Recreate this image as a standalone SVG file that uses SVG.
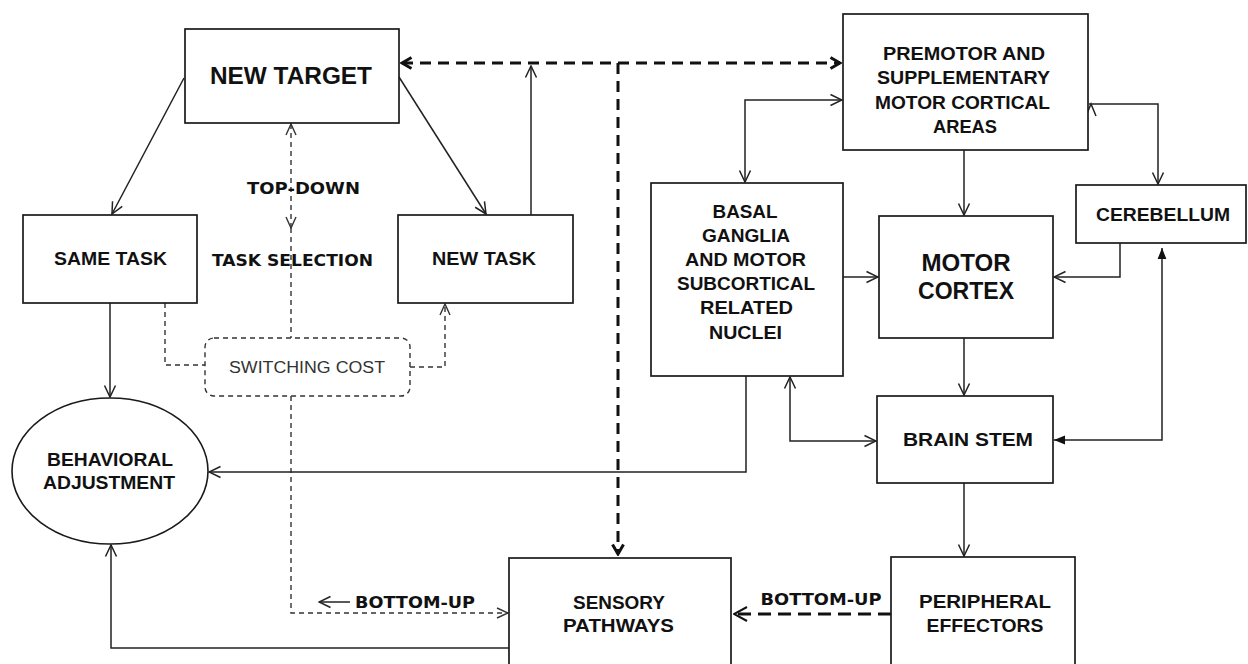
<svg xmlns="http://www.w3.org/2000/svg" width="1248" height="664" viewBox="0 0 1248 664">
<style>
.box{fill:#fff;stroke:#1a1a1a;stroke-width:1.7}
.t{font-family:"Liberation Sans",Arial,sans-serif;font-weight:bold;fill:#111;text-anchor:middle}
.g{font-family:"DejaVu Sans","Liberation Sans",sans-serif;font-weight:bold;fill:#111;text-anchor:middle}
.c{fill:none;stroke:#222;stroke-width:1.5}
.d{fill:none;stroke:#333;stroke-width:1.4;stroke-dasharray:5 4}
.td{fill:none;stroke:#111;stroke-width:3;stroke-dasharray:11 7}
</style>
<defs>
<marker id="a" viewBox="0 0 14 14" refX="13" refY="7" markerWidth="14" markerHeight="14" markerUnits="userSpaceOnUse" orient="auto-start-reverse"><path d="M1.5,1.5 L13,7 L1.5,12.5" fill="none" stroke="#222" stroke-width="1.5"/></marker>
<marker id="ad" viewBox="0 0 14 14" refX="13" refY="7" markerWidth="14" markerHeight="14" markerUnits="userSpaceOnUse" orient="auto-start-reverse"><path d="M2,2 L13,7 L2,12" fill="none" stroke="#333" stroke-width="1.4"/></marker>
<marker id="at" viewBox="0 0 14 14" refX="12" refY="7" markerWidth="14" markerHeight="14" markerUnits="userSpaceOnUse" orient="auto-start-reverse"><path d="M2.5,1.5 L12,7 L2.5,12.5" fill="none" stroke="#111" stroke-width="3"/></marker>
<marker id="am" viewBox="0 0 16 16" refX="15" refY="8" markerWidth="16" markerHeight="16" markerUnits="userSpaceOnUse" orient="auto-start-reverse"><path d="M2,1 L15,8 L2,15" fill="none" stroke="#111" stroke-width="2"/></marker>
<marker id="af" viewBox="0 0 10 10" refX="10" refY="5" markerWidth="11" markerHeight="11" markerUnits="userSpaceOnUse" orient="auto-start-reverse"><path d="M0,1 L10,5 L0,9 Z" fill="#111"/></marker>
</defs>
<rect width="1248" height="664" fill="#fff"/>

<g id="connectors">
<path class="td" d="M402,63 H840" marker-start="url(#at)" marker-end="url(#at)"/>
<path class="td" d="M618,63 V554" marker-end="url(#at)"/>
<path class="c" d="M184,78 L112,214" marker-end="url(#a)"/>
<path class="c" d="M399,77 L486,214" marker-end="url(#a)"/>
<path class="c" d="M531,215 V66" marker-end="url(#a)"/>
<path class="d" d="M291,124 V228" marker-start="url(#ad)" marker-end="url(#ad)"/>
<path class="d" d="M291,228 V338"/>
<path class="d" d="M165,303 V365 H205"/>
<path class="d" d="M410,367 H445 V304" marker-end="url(#ad)"/>
<path class="d" d="M291,396 V613 H508" marker-end="url(#ad)"/>
<path class="c" d="M350,602 H319" marker-end="url(#a)"/>
<path class="c" d="M110,303 V397" marker-end="url(#a)"/>
<path class="c" d="M746,376 V472 H209" marker-end="url(#a)"/>
<path class="c" d="M509,648 H111 V545" marker-end="url(#a)"/>
<path class="c" d="M842,100 H745 V182" marker-start="url(#a)" marker-end="url(#a)"/>
<path class="c" d="M964,150 V215" marker-end="url(#a)"/>
<path class="c" d="M1089,104 H1158 V184" marker-end="url(#a)"/>
<path class="c" d="M1086,116 L1091,104 L1096,116"/>
<path class="c" d="M1120,243 V277 H1054" marker-end="url(#a)"/>
<path class="c" d="M843,277 H878" marker-end="url(#a)"/>
<path class="c" d="M964,338 V395" marker-end="url(#a)"/>
<path class="c" d="M790,377 V441 H876" marker-start="url(#a)" marker-end="url(#a)"/>
<path class="c" d="M1054,440 H1162 V248" marker-start="url(#af)" marker-end="url(#af)"/>
<path class="c" d="M964,483 V556" marker-end="url(#a)"/>
<path fill="none" stroke="#111" stroke-width="3" stroke-dasharray="13 7" d="M891,614 H734" marker-end="url(#am)"/>
</g>

<g id="new-target"><rect class="box" x="185" y="29" width="214" height="94"/><text class="t" x="291" y="84" font-size="23" textLength="162" lengthAdjust="spacingAndGlyphs">NEW TARGET</text></g>
<g id="same-task"><rect class="box" x="23" y="215" width="174" height="88"/><text class="t" x="110.5" y="265" font-size="18" textLength="113" lengthAdjust="spacingAndGlyphs">SAME TASK</text></g>
<g id="new-task"><rect class="box" x="398" y="215" width="175" height="88"/><text class="t" x="484" y="265" font-size="18" textLength="104" lengthAdjust="spacingAndGlyphs">NEW TASK</text></g>
<g id="labels">
<text class="g" x="303.5" y="193.5" font-size="15.5" textLength="113" lengthAdjust="spacingAndGlyphs">TOP-DOWN</text>
<text class="g" x="292.5" y="266" font-size="15.5" textLength="161" lengthAdjust="spacingAndGlyphs">TASK SELECTION</text>
<text class="g" x="415" y="607.5" font-size="15" textLength="120" lengthAdjust="spacingAndGlyphs">BOTTOM-UP</text>
<text class="g" x="821" y="605" font-size="15" textLength="121" lengthAdjust="spacingAndGlyphs">BOTTOM-UP</text>
</g>
<g id="switching-cost"><rect x="205" y="338" width="205" height="58" rx="9" fill="#fff" stroke="#333" stroke-width="1.4" stroke-dasharray="5 4"/><text x="307" y="373" font-family="Liberation Sans,Arial,sans-serif" font-size="16" fill="#333" text-anchor="middle" textLength="156" lengthAdjust="spacingAndGlyphs">SWITCHING COST</text></g>
<g id="behavioral-adjustment"><ellipse cx="110" cy="471" rx="98" ry="73" fill="#fff" stroke="#1a1a1a" stroke-width="1.6"/><text class="t" x="110" y="466" font-size="18" textLength="126" lengthAdjust="spacingAndGlyphs">BEHAVIORAL</text><text class="t" x="109" y="489" font-size="18" textLength="132" lengthAdjust="spacingAndGlyphs">ADJUSTMENT</text></g>
<g id="premotor"><rect class="box" x="843" y="14" width="245" height="136"/>
<text class="t" x="964" y="60" font-size="18" textLength="162" lengthAdjust="spacingAndGlyphs">PREMOTOR AND</text>
<text class="t" x="963.5" y="84" font-size="18" textLength="173" lengthAdjust="spacingAndGlyphs">SUPPLEMENTARY</text>
<text class="t" x="962.5" y="108.5" font-size="18" textLength="175" lengthAdjust="spacingAndGlyphs">MOTOR CORTICAL</text>
<text class="t" x="965" y="132.5" font-size="18" textLength="64" lengthAdjust="spacingAndGlyphs">AREAS</text></g>
<g id="basal-ganglia"><rect class="box" x="651" y="183" width="192" height="193"/>
<text class="t" x="745" y="217.5" font-size="18" textLength="65" lengthAdjust="spacingAndGlyphs">BASAL</text>
<text class="t" x="746" y="241.5" font-size="18" textLength="88" lengthAdjust="spacingAndGlyphs">GANGLIA</text>
<text class="t" x="745.5" y="265.5" font-size="18" textLength="121" lengthAdjust="spacingAndGlyphs">AND MOTOR</text>
<text class="t" x="746" y="289.5" font-size="18" textLength="138" lengthAdjust="spacingAndGlyphs">SUBCORTICAL</text>
<text class="t" x="746.5" y="313.5" font-size="18" textLength="93" lengthAdjust="spacingAndGlyphs">RELATED</text>
<text class="t" x="745.5" y="338.5" font-size="18" textLength="73" lengthAdjust="spacingAndGlyphs">NUCLEI</text></g>
<g id="motor-cortex"><rect class="box" x="879" y="216" width="174" height="122"/>
<text class="t" x="966" y="271" font-size="23" textLength="89" lengthAdjust="spacingAndGlyphs">MOTOR</text>
<text class="t" x="966" y="298.5" font-size="23" textLength="96" lengthAdjust="spacingAndGlyphs">CORTEX</text></g>
<g id="cerebellum"><rect class="box" x="1076" y="185" width="170" height="58"/><text class="t" x="1163" y="220.5" font-size="18" textLength="134" lengthAdjust="spacingAndGlyphs">CEREBELLUM</text></g>
<g id="brain-stem"><rect class="box" x="877" y="396" width="176" height="87"/><text class="t" x="968" y="445.5" font-size="18" textLength="130" lengthAdjust="spacingAndGlyphs">BRAIN STEM</text></g>
<g id="sensory-pathways"><rect class="box" x="509" y="558" width="222" height="120"/>
<text class="t" x="619" y="608.5" font-size="18" textLength="92" lengthAdjust="spacingAndGlyphs">SENSORY</text>
<text class="t" x="618.5" y="631.5" font-size="18" textLength="111" lengthAdjust="spacingAndGlyphs">PATHWAYS</text></g>
<g id="peripheral-effectors"><rect class="box" x="891" y="557" width="184" height="120"/>
<text class="t" x="985" y="607.5" font-size="18" textLength="132" lengthAdjust="spacingAndGlyphs">PERIPHERAL</text>
<text class="t" x="985" y="632" font-size="18" textLength="117" lengthAdjust="spacingAndGlyphs">EFFECTORS</text></g>
</svg>
